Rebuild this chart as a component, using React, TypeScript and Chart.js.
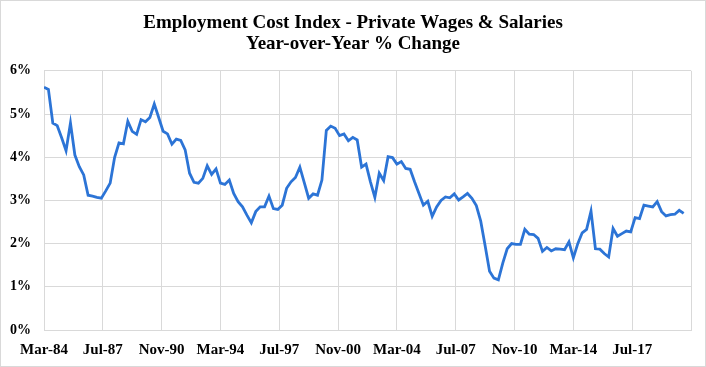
import React, { useEffect, useRef } from "react";
import { Chart, registerables } from "chart.js";

Chart.register(...registerables);

// Quarterly data, first point = Mar-84, one point every 3 months
const startYear = 1984;
const startMonthIndex = 2; // March
const monthsPerPoint = 3;
const monthNames = ["Jan", "Feb", "Mar", "Apr", "May", "Jun", "Jul", "Aug", "Sep", "Oct", "Nov", "Dec"];

const wageGrowth = [
  5.62, 5.57, 4.79, 4.73, 4.45, 4.15, 4.79, 4.05, 3.78, 3.59,
  3.12, 3.10, 3.07, 3.05, 3.22, 3.40, 3.99, 4.33, 4.31, 4.83,
  4.60, 4.53, 4.87, 4.82, 4.92, 5.23, 4.92, 4.60, 4.54, 4.30,
  4.42, 4.39, 4.17, 3.63, 3.42, 3.40, 3.51, 3.80, 3.60, 3.73,
  3.40, 3.37, 3.47, 3.16, 2.97, 2.85, 2.66, 2.48, 2.74, 2.85,
  2.85, 3.10, 2.81, 2.79, 2.89, 3.28, 3.43, 3.53, 3.77, 3.41,
  3.05, 3.15, 3.12, 3.47, 4.62, 4.72, 4.67, 4.50, 4.54, 4.38,
  4.46, 4.40, 3.77, 3.84, 3.43, 3.07, 3.63, 3.46, 4.01, 3.99,
  3.84, 3.90, 3.74, 3.72, 3.43, 3.16, 2.89, 2.98, 2.63, 2.85,
  3.00, 3.08, 3.06, 3.15, 3.01, 3.08, 3.16, 3.05, 2.88, 2.52,
  1.95, 1.36, 1.20, 1.16, 1.55, 1.88, 2.00, 1.98, 1.98, 2.33,
  2.22, 2.21, 2.12, 1.82, 1.91, 1.83, 1.88, 1.87, 1.86, 2.04,
  1.67, 2.00, 2.25, 2.33, 2.75, 1.88, 1.87, 1.77, 1.69, 2.35,
  2.17, 2.23, 2.29, 2.27, 2.60, 2.58, 2.89, 2.87, 2.85, 2.97,
  2.74, 2.64, 2.67, 2.68, 2.77, 2.70,
];

// Axis: months since Mar-84, labelled every 40 months
const xAxisMaxMonths = 440;
const xTickStepMonths = 40;
const yTickValues = [0, 1, 2, 3, 4, 5, 6];

const titleLines = [
  "Employment Cost Index - Private Wages & Salaries",
  "Year-over-Year % Change",
];

const FONT = "'Liberation Serif', 'Times New Roman', serif";

function monthLabel(m: number): string {
  const total = startMonthIndex + m;
  const month = monthNames[total % 12];
  const year = startYear + Math.floor(total / 12);
  return `${month}-${String(year % 100).padStart(2, "0")}`;
}

export default function App() {
  const canvasRef = useRef<HTMLCanvasElement | null>(null);

  useEffect(() => {
    document.body.style.margin = "0";
    const canvas = canvasRef.current;
    if (!canvas) return;
    const points = wageGrowth.map((v, i) => ({ x: i * monthsPerPoint, y: v }));
    const chart = new Chart(canvas, {
      type: "line",
      data: {
        datasets: [
          {
            data: points,
            borderColor: "#2C74D6",
            borderWidth: 2.8,
            pointRadius: 0,
            tension: 0,
            fill: false,
            yAxisID: "y",
          },
        ],
      },
      options: {
        animation: false,
        responsive: false,
        maintainAspectRatio: false,
        layout: { padding: { top: 0, right: 0, bottom: 0, left: 0 } },
        plugins: {
          legend: { display: false },
          tooltip: { enabled: false },
          title: {
            display: true,
            text: titleLines,
            color: "#000",
            font: { family: FONT, size: 19, weight: "bold", lineHeight: 1.1 },
            padding: { top: 13, bottom: 16 },
          },
        },
        scales: {
          x: {
            type: "linear",
            min: 0,
            max: xAxisMaxMonths,
            afterFit: (s: any) => {
              s.height = 37;
            },
            afterBuildTicks: (s: any) => {
              const t = [];
              for (let m = 0; m <= xAxisMaxMonths; m += xTickStepMonths) t.push({ value: m });
              s.ticks = t;
            },
            ticks: {
              autoSkip: false,
              maxRotation: 0,
              minRotation: 0,
              padding: 11,
              color: "#000",
              font: { family: FONT, size: 15, weight: "bold" },
              callback: (v: any) => (Number(v) >= xAxisMaxMonths ? "" : monthLabel(Number(v))),
            },
            grid: { color: "#d9d9d9", lineWidth: 1, drawTicks: false },
            border: { display: true, color: "#d9d9d9" },
          },
          y: {
            min: 0,
            max: 6,
            afterFit: (s: any) => {
              s.width = 44;
            },
            afterBuildTicks: (s: any) => {
              s.ticks = yTickValues.map((v) => ({ value: v }));
            },
            ticks: {
              padding: 13,
              color: "#000",
              font: { family: FONT, size: 14, weight: "bold" },
              callback: (v: any) => `${v}%`,
            },
            grid: { color: "#d9d9d9", lineWidth: 1, drawTicks: false },
            border: { display: true, color: "#d9d9d9" },
          },
          yRightSpacer: {
            position: "right",
            min: 0,
            max: 6,
            afterFit: (s: any) => {
              s.width = 15;
            },
            ticks: { display: false },
            grid: { display: false, drawTicks: false },
            border: { display: false },
          },
        },
      },
    });
    return () => chart.destroy();
  }, []);

  return (
    <div style={{ position: "relative", width: 706, height: 367, background: "#fff" }}>
      <canvas ref={canvasRef} width={706} height={367} style={{ display: "block" }} />
      <div
        style={{
          position: "absolute",
          inset: 0,
          border: "1px solid #d9d9d9",
          pointerEvents: "none",
        }}
      />
    </div>
  );
}
